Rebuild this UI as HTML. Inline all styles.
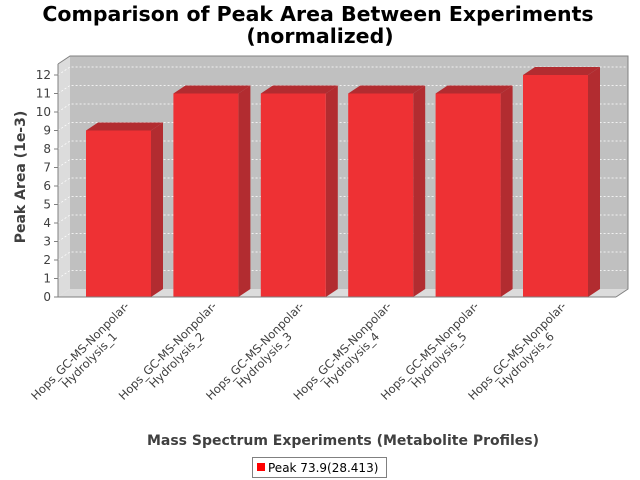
<!DOCTYPE html>
<html><head><meta charset="utf-8"><style>
body{margin:0;background:#fff}
svg{display:block;font-family:"DejaVu Sans","Liberation Sans",sans-serif}
</style></head><body>
<svg id="chart" width="640" height="480" viewBox="0 0 640 480">
<rect width="640" height="480" fill="#fff"/>
<text x="318" y="21" text-anchor="middle" font-size="20.5" font-weight="bold" font-family="'DejaVu Sans',sans-serif">Comparison of Peak Area Between Experiments</text>
<text x="320" y="43" text-anchor="middle" font-size="20.5" font-weight="bold" font-family="'DejaVu Sans',sans-serif">(normalized)</text>
<polygon points="58,64 70,56 70,289 58,297" fill="#dcdcdc"/>
<polygon points="58,297 70,289 628,289 616,297" fill="#dcdcdc"/>
<rect x="70" y="56" width="558" height="233" fill="#c0c0c0"/>
<g id="grid"></g>
<polyline points="58,64 70,56 628,56 628,289 616,297" fill="none" stroke="#808080" stroke-width="1"/>
<g id="bars"></g>
<line x1="58" y1="64" x2="58" y2="297" stroke="#808080"/>
<line x1="58" y1="297" x2="616" y2="297" stroke="#808080"/>
<g id="yticks"></g>
<g id="xlabels"></g>
<text transform="translate(25,177) rotate(-90)" text-anchor="middle" font-size="14" font-weight="bold" fill="#404040">Peak Area (1e-3)</text>
<text x="343" y="445" text-anchor="middle" font-size="14" font-weight="bold" fill="#404040">Mass Spectrum Experiments (Metabolite Profiles)</text>
<g>
<rect x="252.5" y="457.5" width="134" height="20" fill="#fff" stroke="#808080"/>
<rect x="257" y="463" width="8" height="8" fill="#ff0000"/>
<text x="268" y="472" font-size="12" fill="#000">Peak 73.9(28.413)</text>
</g>
</svg>
<script>
const categories=["Hydrolysis_1","Hydrolysis_2","Hydrolysis_3","Hydrolysis_4","Hydrolysis_5","Hydrolysis_6"];
const values=[9,11,11,11,11,12];
const yTicks=[0,1,2,3,4,5,6,7,8,9,10,11,12];
const NS="http://www.w3.org/2000/svg";
const y0=297, yUnit=18.5, dx=12, dy=8;
const y=v=>y0-v*yUnit;
const step=87.4, firstCenter=118.5, bw=65;
const xc=i=>firstCenter+i*step;
function mk(tag,attrs,parent){const e=document.createElementNS(NS,tag);for(const k in attrs)e.setAttribute(k,attrs[k]);parent.appendChild(e);return e;}
const grid=document.getElementById('grid'),yt=document.getElementById('yticks');
yTicks.forEach(t=>{
  const yy=y(t);
  if(t>0){
    const g=mk('polyline',{points:`58,${yy} 70,${yy-dy} 628,${yy-dy}`,fill:'none',stroke:'#fff','stroke-width':0.7,'stroke-dasharray':'2,2'},grid);
    
    
  }
  const tk=mk('line',{x1:54,x2:58,y1:yy,y2:yy,stroke:'#808080'},yt);
  
  
  const tx=mk('text',{x:51,y:yy+4,'text-anchor':'end','font-size':12,fill:'#404040'},yt);
  tx.textContent=t;
  
  
});
const bars=document.getElementById('bars'),xl=document.getElementById('xlabels');
values.forEach((v,i)=>{
  const l=xc(i)-bw/2,r=l+bw,t=y(v);
  const g=mk('g',{},bars);
  
  
  mk('polygon',{points:`${r},${t} ${r+dx},${t-dy} ${r+dx},${y0-dy} ${r},${y0}`,fill:'#b22c30'},g);
  mk('polygon',{points:`${l},${t} ${l+dx},${t-dy} ${r+dx},${t-dy} ${r},${t}`,fill:'#b22c30'},g);
  mk('rect',{x:l,y:t,width:bw,height:y0-t,fill:'#ee3134'},g);
  const lg=mk('g',{transform:`translate(${xc(i)+2},302) rotate(-45)`,'font-size':11.5,fill:'#404040','text-anchor':'middle'},xl);
  
  
  const a=mk('text',{x:-63,y:10},lg);a.textContent='Hops_GC-MS-Nonpolar-';
  const b=mk('text',{x:-63,y:23},lg);b.textContent=categories[i];
});
</script>
</body></html>
